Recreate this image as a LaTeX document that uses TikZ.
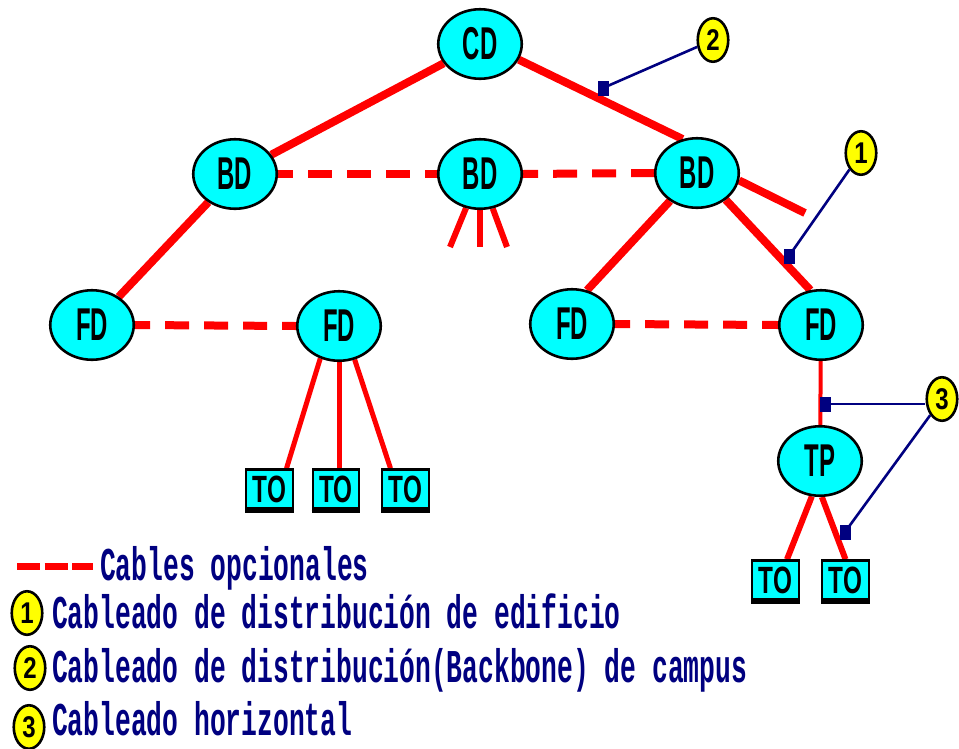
\documentclass[tikz,border=0pt]{standalone}
\usepackage{fontspec}
\usetikzlibrary{shapes.geometric,backgrounds}
\newfontfamily\hubfont{Liberation Sans}
\newfontfamily\tagfont{Liberation Sans}
\newfontfamily\legendfont{Liberation Mono}
\definecolor{navyblue}{RGB}{0,0,128}
\definecolor{hubcyan}{RGB}{0,255,255}
\definecolor{tagyellow}{RGB}{255,255,0}
\definecolor{cablered}{RGB}{255,0,0}
% condensed labels for the hubs, outlets and number tags
\newcommand\hublabel[1]{\scalebox{0.52}[1]{\hubfont\fontsize{46}{46}\selectfont #1}}
\newcommand\outletlabel[1]{\scalebox{0.64}[1]{\hubfont\fontsize{38}{38}\selectfont #1}}
\newcommand\taglabel[1]{\scalebox{0.8}[1]{\tagfont\bfseries\fontsize{30}{30}\selectfont #1}}
\newcommand\legendtext[1]{\scalebox{0.56}[1]{\legendfont\bfseries\fontsize{47}{47}\selectfont #1}}
\tikzset{
  hub/.style={ellipse, draw=black, line width=2.6pt, fill=hubcyan,
    minimum width=83.5pt, minimum height=69.5pt, inner sep=0pt, font=\bfseries},
  outlet/.style={rectangle, draw=black, line width=2.4pt, fill=hubcyan,
    minimum width=46.5pt, minimum height=39pt, inner sep=0pt, font=\bfseries},
  tag/.style={ellipse, draw=black, line width=2.6pt, fill=tagyellow,
    minimum width=30.5pt, minimum height=43.5pt, inner sep=0pt},
  cable/.style={draw=cablered, line width=8pt},
  thincable/.style={draw=cablered, line width=5pt},
  optcable/.style={draw=cablered, line width=8pt, dash pattern=on 24pt off 15pt, dash phase=9pt},
  pointer/.style={draw=navyblue, line width=2.6pt},
  marker/.style={rectangle, fill=navyblue, minimum width=11pt, minimum height=15pt, inner sep=0pt},
  legendline/.style={anchor=base west, text=navyblue, inner sep=0pt}
}
\begin{document}
\begin{tikzpicture}[x=1pt,y=-1pt]
\path[use as bounding box] (0,0) rectangle (959,748);

% distributors
\node[hub] (cd)  at (480,44)  {\hublabel{CD}};
\node[hub] (bdl) at (235,174) {\hublabel{BD}};
\node[hub] (bdm) at (480,174) {\hublabel{BD}};
\node[hub] (bdr) at (697,173) {\hublabel{BD}};
\node[hub] (fdl) at (92,325)  {\hublabel{FD}};
\node[hub] (fdm) at (339,326) {\hublabel{FD}};
\node[hub] (fdc) at (572,324) {\hublabel{FD}};
\node[hub] (fdr) at (821,325) {\hublabel{FD}};
\node[hub] (tp)  at (820,461) {\hublabel{TP}};

% telecommunication outlets
\node[outlet] (to1) at (269.5,489) {\outletlabel{TO}};
\node[outlet] (to2) at (336,489)   {\outletlabel{TO}};
\node[outlet] (to3) at (405.5,489) {\outletlabel{TO}};
\node[outlet] (to4) at (775.5,580) {\outletlabel{TO}};
\node[outlet] (to5) at (845.5,580) {\outletlabel{TO}};
\foreach \o in {to1,to2,to3,to4,to5}
  \draw[line width=3pt] ([yshift=-1.5pt]\o.south west) -- ([yshift=-1.5pt]\o.south east);

% loose cable ends
\coordinate (bdrstub) at (805,213);
\coordinate (bdms1) at (450,247);
\coordinate (bdms2) at (480,247);
\coordinate (bdms3) at (507,247);

\begin{scope}[on background layer]
  \fill[white] (0,0) rectangle (959,748);
  % backbone cabling
  \draw[cable] (cd) -- (bdl);
  \draw[cable] (cd.338) -- (bdr.113);
  \draw[cable] (bdl) -- (fdl);
  \draw[cable] (bdr.226) -- (fdc.66);
  \draw[cable] (bdr.317) -- (fdr.107);
  \draw[cable] (bdr.350) -- (bdrstub);
  \draw[draw=cablered, line width=6pt] (bdm) -- (bdms1);
  \draw[draw=cablered, line width=6pt] (bdm) -- (bdms2);
  \draw[draw=cablered, line width=6pt] (bdm) -- (bdms3);
  % optional cables
  \draw[optcable] (bdl.east) -- (bdm.west);
  \draw[optcable] (bdm.east) -- (bdr.west);
  \draw[optcable] (fdl.east) -- (fdm.west);
  \draw[optcable] (fdc.east) -- (fdr.west);
  % horizontal cabling
  \draw[thincable] (fdm.240) -- ([xshift=17pt]to1.north);
  \draw[thincable] (fdm.south) -- (fdm.south |- to2.north);
  \draw[thincable] (fdm.295) -- ([xshift=-15pt]to3.north);
  \draw[draw=cablered, line width=4pt] (fdr) -- (tp);
  \draw[draw=cablered, line width=6pt] (tp.257) -- ([xshift=11.5pt]to4.north);
  \draw[draw=cablered, line width=6pt] (tp.273) -- (to5.north);
\end{scope}

% number tags and their pointers
\node[tag] (t1) at (861,153) {\taglabel{1}};
\node[tag] (t2) at (713,40)  {\taglabel{2}};
\node[tag] (t3) at (942,399) {\taglabel{3}};
\node[marker] (m1)  at (789,256) {};
\node[marker] (m2)  at (603,88)  {};
\node[marker] (m3a) at (825,404) {};
\node[marker] (m3b) at (845,532) {};
\draw[pointer] (m2.center) -- (t2);
\draw[pointer] (m1.center) -- (t1);
\draw[pointer] (m3a.center) -- (m3a -| t3.west);
\draw[pointer] (m3b.center) -- (t3);

% legend
\coordinate (legdash) at (17,566.5);
\draw[draw=cablered, line width=7pt, dash pattern=on 23pt off 4.5pt] (legdash) -- ++(76,0);
\node[legendline] (leg0) at (100,580) {\legendtext{Cables opcionales}};
\node[tag] (lt1) at (27,613) {\taglabel{1}};
\node[tag] (lt2) at (30,668) {\taglabel{2}};
\node[tag] (lt3) at (29,727) {\taglabel{3}};
\node[legendline] (leg1) at (52,628) {\legendtext{Cableado de distribución de edificio}};
\node[legendline] (leg2) at (52,682) {\legendtext{Cableado de distribución(Backbone) de campus}};
\node[legendline] (leg3) at (52,735) {\legendtext{Cableado horizontal}};
\end{tikzpicture}
\end{document}
